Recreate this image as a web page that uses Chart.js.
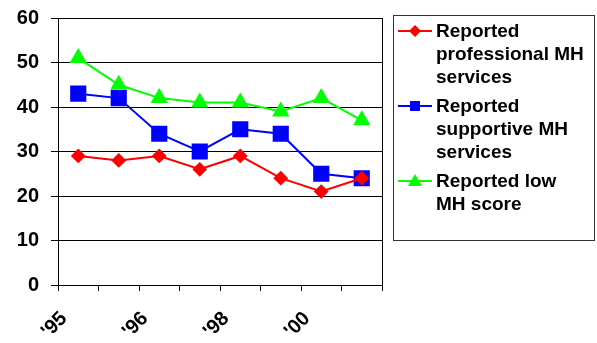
<!DOCTYPE html>
<html>
<head>
<meta charset="utf-8">
<script src="https://cdn.jsdelivr.net/npm/chart.js@4.4.0/dist/chart.umd.min.js"></script>
<style>
  html, body { margin: 0; padding: 0; background: #fff; }
  #wrap { position: relative; width: 597px; height: 343px; }
  #legend {
    position: absolute; left: 393px; top: 15px; width: 202px; height: 226px;
    border: 1px solid #333; box-sizing: border-box;
    font: bold 19px "Liberation Sans", Arial, sans-serif; color: #000;
    padding-top: 3px;
  }
  .item { position: relative; padding-left: 42px; line-height: 23px; margin-bottom: 6px; }
  .item svg { position: absolute; left: 4px; top: 4px; }
</style>
</head>
<body>
<div id="wrap">
  <canvas id="chart" width="597" height="343"></canvas>
  <div id="legend"></div>
</div>
<script>
// data
const yearTicks = { 0: "'95", 2: "'96", 4: "'98", 6: "'00" };
const professionalMH = [29, 28, 29, 26, 29, 24, 21, 24];
const supportiveMH = [43, 42, 34, 30, 35, 34, 25, 24];
const lowMHScore = [51, 45, 42, 41, 41, 39, 42, 37];

const seriesNames = [
  ['Reported', 'professional MH', 'services'],
  ['Reported', 'supportive MH', 'services'],
  ['Reported low', 'MH score']
];

// points sit in the middle of each of the 8 slots
const toPoints = arr => arr.map((v, i) => ({ x: i + 0.5, y: v }));

const FONT = '"Liberation Sans", Arial, sans-serif';

// box round the plot area
const frame = {
  id: 'frame',
  afterDatasetsDraw(chart) {
    const a = chart.chartArea, c = chart.ctx;
    c.save();
    c.strokeStyle = '#000';
    c.lineWidth = 1;
    c.strokeRect(Math.round(a.left) + 0.5, Math.round(a.top) + 0.5,
      Math.round(a.right - a.left), Math.round(a.bottom - a.top));
    c.restore();
  }
};

const ctx = document.getElementById('chart').getContext('2d');
const chart = new Chart(ctx, {
  type: 'line',
  data: {
    datasets: [
      { data: toPoints(professionalMH), borderColor: '#FF0000', backgroundColor: '#FF0000',
        pointStyle: 'rectRot', pointRadius: 6 },
      { data: toPoints(supportiveMH), borderColor: '#0000FF', backgroundColor: '#0000FF',
        pointStyle: 'rect', pointRadius: 10 },
      { data: toPoints(lowMHScore), borderColor: '#00FF00', backgroundColor: '#00FF00',
        pointStyle: 'triangle', pointRadius: 8 }
    ].map((d, i) => Object.assign(d, { label: seriesNames[i].join(' '), borderWidth: 2, tension: 0 }))
  },
  options: {
    responsive: false,
    animation: false,
    layout: { padding: { left: 0, top: 18, right: 215, bottom: 0 } },
    plugins: { legend: { display: false }, tooltip: { enabled: false } },
    scales: {
      x: {
        type: 'linear', min: 0, max: 8,
        afterFit: s => { s.height = 58; },
        grid: { drawOnChartArea: false, color: '#000', tickLength: 6 },
        border: { color: '#000' },
        ticks: {
          stepSize: 1, autoSkip: false, maxRotation: 45, minRotation: 45,
          padding: 16, labelOffset: 6,
          color: '#000', font: { family: FONT, size: 20, weight: 'bold' },
          callback: v => yearTicks[v] || ''
        }
      },
      y: {
        min: 0, max: 60,
        afterFit: s => { s.width = 58; s.paddingTop = 0; },
        grid: { color: '#000', tickLength: 7 },
        border: { color: '#000' },
        ticks: {
          stepSize: 10, padding: 12,
          color: '#000', font: { family: FONT, size: 20, weight: 'bold', lineHeight: 1 }
        }
      }
    }
  },
  plugins: [frame]
});

// legend built from the datasets
function symbol(ds) {
  const c = ds.borderColor;
  let mark;
  if (ds.pointStyle === 'rectRot') mark = `<polygon points="17,2 23,8 17,14 11,8" fill="${c}"/>`;
  else if (ds.pointStyle === 'rect') mark = `<rect x="12" y="3" width="10" height="10" fill="${c}"/>`;
  else mark = `<polygon points="17,1 24,13 10,13" fill="${c}"/>`;
  return `<svg width="36" height="16"><line x1="0" y1="8" x2="34" y2="8" stroke="${c}" stroke-width="2"/>${mark}</svg>`;
}
document.getElementById('legend').innerHTML = chart.data.datasets.map((ds, i) =>
  `<div class="item">${symbol(ds)}${seriesNames[i].join('<br>')}</div>`).join('');
</script>
</body>
</html>
